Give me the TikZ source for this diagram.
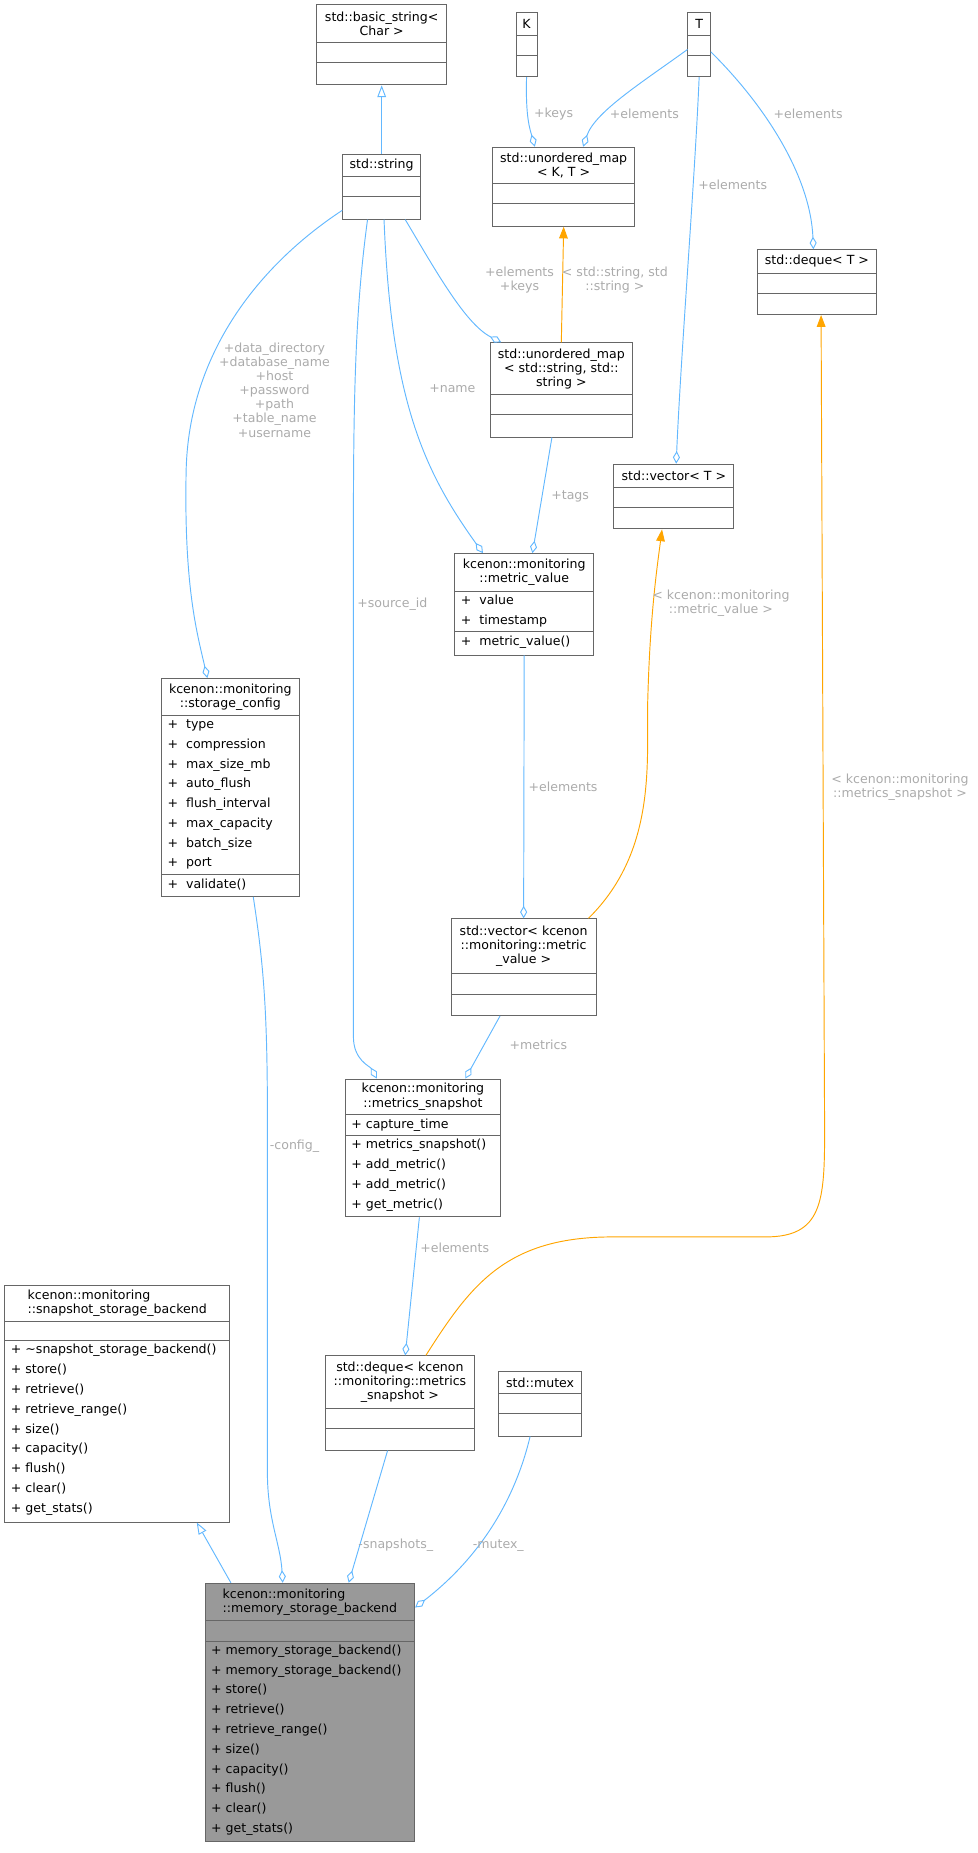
\documentclass[tikz,border=0pt]{standalone}
\usepackage{fontspec}
\setmainfont{DejaVu Sans}
\usetikzlibrary{arrows.meta,fit,calc}
\definecolor{edge}{HTML}{63B8FF}
\definecolor{inst}{HTML}{FFA500}
\definecolor{bord}{HTML}{666666}
\definecolor{lab}{HTML}{ABABAB}
\definecolor{hl}{HTML}{999999}
\newcommand\ubox[8][white]{%
  \node[cls,fill=#1,fit={(#3,#4)(#5,#6)}] (#2) {};
  \draw[sepl] (#3,#7) -- (#5,#7);
  \draw[sepl] (#3,#8) -- (#5,#8);}
\begin{document}
\begin{tikzpicture}[x=0.75pt,y=-0.75pt,font=\fontsize{8}{9}\selectfont,
  cls/.style={draw=bord,inner sep=0pt,line width=0.6pt},
  sepl/.style={draw=bord,line width=0.6pt},
  ttl/.style={align=center,inner sep=0pt},
  ttll/.style={align=left,inner sep=0pt},
  mem/.style={anchor=west,inner sep=0pt,text height=6pt,text depth=1.7pt},
  lbl/.style={text=lab,align=center,inner sep=0pt},
  assoc/.style={draw=edge,line width=0.6pt,-{Diamond[open,length=8pt,width=4.5pt]}},
  inh/.style={draw=edge,line width=0.6pt,-{Triangle[open,length=7.5pt,width=5.5pt]}},
  tmpl/.style={draw=inst,line width=0.6pt,-{Triangle[length=7.5pt,width=5.5pt]}}]
\useasboundingbox (0,0) rectangle (830,1573);

% boxes
\ubox{bstr}{269}{4}{379}{72}{36}{53}
\node[ttl] (tbstr) at (324,20) {std::basic\_string<\\Char >};
\ubox{K}{438}{11}{456}{65}{30}{47}
\node[ttl] (tK) at (447,20.5) {K};
\ubox{T}{584}{11}{603}{65}{30}{47}
\node[ttl] (tT) at (593.5,20.5) {T};
\ubox{str}{291}{131}{357}{186}{150}{167}
\node[ttl] (tstr) at (324,140.5) {std::string};
\ubox{umapKT}{418}{125}{539}{192}{156}{173}
\node[ttl] (tumapKT) at (478.5,140.5) {std::unordered\_map\\< K, T >};
\ubox{dequeT}{643}{212}{744}{267}{232}{249}
\node[ttl] (tdequeT) at (693.5,222) {std::deque< T >};
\ubox{umapss}{416}{291}{537}{371}{335}{352}
\node[ttl] (tumapss) at (476.5,313) {std::unordered\_map\\< std::string, std::\\string >};
\ubox{vecT}{521}{394}{623}{449}{414}{431}
\node[ttl] (tvecT) at (572,404) {std::vector< T >};

\ubox{mv}{386}{470}{504}{556}{502}{536}
\node[ttl] (tmv) at (445,486) {kcenon::monitoring\\::metric\_value};
\node[mem] (mv1) at (391,510.5) {+\ \ value};
\node[mem] (mv2) at (391,527.3) {+\ \ timestamp};
\node[mem] (mv3) at (391,545.5) {+\ \ metric\_value()};

\ubox{sc}{137}{576}{254}{761}{607}{742}
\node[ttl] (tsc) at (195.5,591.5) {kcenon::monitoring\\::storage\_config};
\foreach \t [count=\i from 0] in {type,compression,max\_size\_mb,auto\_flush,flush\_interval,max\_capacity,batch\_size,port}
  \node[mem] at (142,615.5+\i*16.8) {+\ \ \t};
\node[mem] (sc9) at (142,751) {+\ \ validate()};

\ubox{vmv}{383}{780}{506}{862}{826}{844}
\node[ttl] (tvmv) at (444.5,803) {std::vector< kcenon\\::monitoring::metric\\\_value >};

\ubox{ms}{293}{916}{425}{1033}{946}{964}
\node[ttl] (tms) at (359,931) {kcenon::monitoring\\::metrics\_snapshot};
\node[mem] (ms0) at (298,955) {+\ capture\_time};
\foreach \t [count=\i from 0] in {metrics\_snapshot(),add\_metric(),add\_metric(),get\_metric()}
  \node[mem] at (298,972.5+\i*16.8) {+\ \t};

\ubox{ssb}{4}{1091}{195}{1292}{1122}{1138}
\node[ttll] (tssb) at (99.5,1106.5) {kcenon::monitoring\\::snapshot\_storage\_backend};
\foreach \t [count=\i from 0] in {\textasciitilde snapshot\_storage\_backend(),store(),retrieve(),retrieve\_range(),size(),capacity(),flush(),clear(),get\_stats()}
  \node[mem] at (9,1146.5+\i*16.8) {+\ \t};

\ubox{deqms}{276}{1151}{403}{1231}{1196}{1213}
\node[ttl] (tdeqms) at (339.5,1173.5) {std::deque< kcenon\\::monitoring::metrics\\\_snapshot >};
\ubox{mutex}{423}{1164}{494}{1219}{1183}{1200}
\node[ttl] (tmutex) at (458.5,1173.5) {std::mutex};

\ubox[hl]{msb}{174}{1344}{352}{1563}{1376}{1393}
\node[ttll] (tmsb) at (263,1360) {kcenon::monitoring\\::memory\_storage\_backend};
\foreach \t [count=\i from 0] in {memory\_storage\_backend(),memory\_storage\_backend(),store(),retrieve(),retrieve\_range(),size(),capacity(),flush(),clear(),get\_stats()}
  \node[mem] at (179,1401.5+\i*16.8) {+\ \t};

% connectors
\draw[inh] (str.north) -- (bstr.south);
\draw[assoc] (K.south) .. controls (446,100) and (450,110) .. ($(umapKT.north)+(-24.5,0)$);
\draw[assoc] ($(T.west)+(0,4)$) .. controls (545,70) and (505,95) .. ($(umapKT.north)+(16.5,0)$);
\draw[assoc] ($(T.east)+(0,6)$) .. controls (650,90) and (688,150) .. ($(dequeT.north)+(-3,0)$);
\draw[assoc] (T.south) .. controls (590,150) and (578,300) .. ($(vecT.north)+(2,0)$);
\draw[tmpl] (umapss.north) -- (umapKT.south);
\draw[assoc] ($(str.south)+(20,0)$) .. controls (370,230) and (395,275) .. ($(umapss.north)+(-51,0)$);
\draw[assoc] ($(str.south)+(2,0)$) .. controls (332,340) and (360,400) .. ($(mv.north)+(-35,0)$);
\draw[assoc] ($(umapss.south)+(-8,0)$) -- ($(mv.north)+(7,0)$);
\draw[tmpl] ($(vmv.north)+(55,0)$) .. controls (560,720) and (548,640) .. (550,590) .. controls (552,520) and (558,480) .. ($(vecT.south)+(-10,0)$);
\draw[assoc] (mv.south) -- (vmv.north);
\draw[assoc] ($(str.south)+(-12,0)$) .. controls (302,260) and (300,330) .. (300,450) -- (300,880) .. controls (300,900) and (314,905) .. ($(ms.north)+(-39,0)$);
\draw[assoc] ($(str.west)+(0,20)$) .. controls (220,225) and (160,300) .. (158,400) .. controls (156,500) and (168,540) .. ($(sc.north)+(-19.5,0)$);
\draw[assoc] ($(vmv.south)+(-20,0)$) -- ($(ms.north)+(36,0)$);
\draw[assoc] ($(ms.south)+(-3,0)$) -- ($(deqms.north)+(4.5,0)$);
\draw[tmpl] ($(deqms.north)+(22,0)$) .. controls (400,1090) and (430,1050) .. (520,1050) -- (650,1050) .. controls (698,1050) and (700,1020) .. (700,960) -- ($(dequeT.south)+(3.5,0)$);
\draw[inh] ($(msb.north)+(-67,0)$) -- ($(ssb.south)+(67.5,0)$);
\draw[assoc] ($(sc.south)+(19.5,0)$) .. controls (224,820) and (227,860) .. (227,950) -- (227,1250) .. controls (227,1290) and (238,1310) .. ($(msb.north)+(-23,0)$);
\draw[assoc] ($(deqms.south)+(-10.5,0)$) -- ($(msb.north)+(33,0)$);
\draw[assoc] ($(mutex.south)+(-8.5,0)$) .. controls (438,1270) and (410,1320) .. ($(msb.north east)+(0,21)$);

% labels
\node[lbl] (l1) at (470,97) {+keys};
\node[lbl] (l2) at (547,97) {+elements};
\node[lbl] (l3) at (686,97) {+elements};
\node[lbl] (l4) at (622,157) {+elements};
\node[lbl] (l5) at (522,238) {< std::string, std\\::string >};
\node[lbl] (l6) at (441,238) {+elements\\+keys};
\node[lbl] (l7) at (384,330) {+name};
\node[lbl] (l8) at (484,421) {+tags};
\node[lbl] (l9) at (612,512) {< kcenon::monitoring\\::metric\_value >};
\node[lbl] (l10) at (478,668) {+elements};
\node[lbl] (l11) at (333,513) {+source\_id};
\node[lbl] (l12) at (233,331) {+data\_directory\\+database\_name\\+host\\+password\\+path\\+table\_name\\+username};
\node[lbl] (l13) at (457,887) {+metrics};
\node[lbl] (l14) at (386,1059) {+elements};
\node[lbl] (l15) at (764,668) {< kcenon::monitoring\\::metrics\_snapshot >};
\node[lbl] (l16) at (250,973) {-config\_};
\node[lbl] (l17) at (336,1312) {-snapshots\_};
\node[lbl] (l18) at (423,1312) {-mutex\_};
\end{tikzpicture}
\end{document}
